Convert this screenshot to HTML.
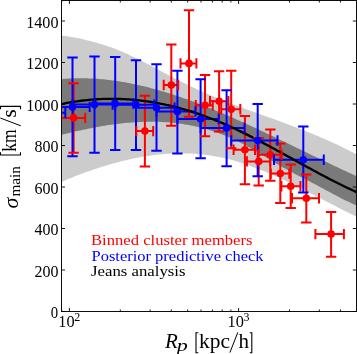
<!DOCTYPE html>
<html><head><meta charset="utf-8"><style>html,body{margin:0;padding:0;background:#fff;}svg{display:block;}</style></head>
<body><svg width="357" height="354" viewBox="0 0 357 354" style="will-change:transform">
<defs><clipPath id="c"><rect x="61.5" y="0.5" width="295" height="311"/></clipPath></defs>
<rect width="357" height="354" fill="#fff"/>
<g clip-path="url(#c)">
<polygon points="61.00,35.65 63.00,35.84 65.00,36.07 67.00,36.32 69.00,36.59 71.00,36.89 73.00,37.22 75.00,37.57 77.00,37.95 79.00,38.34 81.00,38.76 83.00,39.21 85.00,39.67 87.00,40.15 89.00,40.65 91.00,41.17 93.00,41.71 95.00,42.26 97.00,42.83 99.00,43.42 101.00,44.02 103.00,44.65 105.00,45.29 107.00,45.95 109.00,46.64 111.00,47.35 113.00,48.08 115.00,48.83 117.00,49.61 119.00,50.42 121.00,51.25 123.00,52.10 125.00,52.97 127.00,53.86 129.00,54.78 131.00,55.71 133.00,56.65 135.00,57.62 137.00,58.59 139.00,59.59 141.00,60.59 143.00,61.61 145.00,62.63 147.00,63.67 149.00,64.71 151.00,65.76 153.00,66.81 155.00,67.87 157.00,68.94 159.00,70.00 161.00,71.07 163.00,72.14 165.00,73.20 167.00,74.27 169.00,75.33 171.00,76.39 173.00,77.44 175.00,78.48 177.00,79.52 179.00,80.55 181.00,81.56 183.00,82.57 185.00,83.56 187.00,84.54 189.00,85.51 191.00,86.47 193.00,87.41 195.00,88.34 197.00,89.26 199.00,90.17 201.00,91.06 203.00,91.95 205.00,92.83 207.00,93.69 209.00,94.55 211.00,95.39 213.00,96.23 215.00,97.06 217.00,97.88 219.00,98.69 221.00,99.50 223.00,100.29 225.00,101.09 227.00,101.87 229.00,102.65 231.00,103.42 233.00,104.18 235.00,104.94 237.00,105.70 239.00,106.45 241.00,107.20 243.00,107.94 245.00,108.68 247.00,109.41 249.00,110.15 251.00,110.88 253.00,111.60 255.00,112.33 257.00,113.06 259.00,113.78 261.00,114.50 263.00,115.22 265.00,115.94 267.00,116.66 269.00,117.39 271.00,118.11 273.00,118.83 275.00,119.56 277.00,120.28 279.00,121.01 281.00,121.75 283.00,122.48 285.00,123.22 287.00,123.96 289.00,124.70 291.00,125.45 293.00,126.20 295.00,126.96 297.00,127.73 299.00,128.49 301.00,129.27 303.00,130.05 305.00,130.84 307.00,131.63 309.00,132.43 311.00,133.24 313.00,134.06 315.00,134.88 317.00,135.71 319.00,136.56 321.00,137.41 323.00,138.27 325.00,139.14 327.00,140.02 329.00,140.91 331.00,141.81 333.00,142.73 335.00,143.65 337.00,144.59 339.00,145.54 341.00,146.50 343.00,147.47 345.00,148.46 347.00,149.46 349.00,150.48 351.00,151.51 353.00,152.55 355.00,153.61 357.00,154.69 357.00,216.93 355.00,215.95 353.00,214.97 351.00,213.97 349.00,212.97 347.00,211.97 345.00,210.96 343.00,209.95 341.00,208.93 339.00,207.90 337.00,206.88 335.00,205.85 333.00,204.82 331.00,203.78 329.00,202.75 327.00,201.71 325.00,200.68 323.00,199.64 321.00,198.60 319.00,197.57 317.00,196.53 315.00,195.50 313.00,194.47 311.00,193.44 309.00,192.42 307.00,191.40 305.00,190.38 303.00,189.37 301.00,188.36 299.00,187.36 297.00,186.37 295.00,185.38 293.00,184.39 291.00,183.42 289.00,182.45 287.00,181.49 285.00,180.54 283.00,179.60 281.00,178.67 279.00,177.75 277.00,176.83 275.00,175.93 273.00,175.04 271.00,174.17 269.00,173.30 267.00,172.45 265.00,171.61 263.00,170.78 261.00,169.97 259.00,169.18 257.00,168.39 255.00,167.63 253.00,166.88 251.00,166.14 249.00,165.43 247.00,164.73 245.00,164.05 243.00,163.38 241.00,162.74 239.00,162.11 237.00,161.51 235.00,160.92 233.00,160.36 231.00,159.82 229.00,159.29 227.00,158.79 225.00,158.32 223.00,157.86 221.00,157.43 219.00,157.02 217.00,156.63 215.00,156.27 213.00,155.93 211.00,155.61 209.00,155.31 207.00,155.04 205.00,154.78 203.00,154.55 201.00,154.34 199.00,154.15 197.00,153.98 195.00,153.83 193.00,153.71 191.00,153.60 189.00,153.51 187.00,153.45 185.00,153.40 183.00,153.37 181.00,153.36 179.00,153.38 177.00,153.41 175.00,153.46 173.00,153.53 171.00,153.61 169.00,153.72 167.00,153.84 165.00,153.99 163.00,154.15 161.00,154.33 159.00,154.52 157.00,154.73 155.00,154.97 153.00,155.21 151.00,155.48 149.00,155.76 147.00,156.06 145.00,156.37 143.00,156.70 141.00,157.05 139.00,157.41 137.00,157.79 135.00,158.19 133.00,158.59 131.00,159.02 129.00,159.46 127.00,159.91 125.00,160.38 123.00,160.87 121.00,161.36 119.00,161.88 117.00,162.40 115.00,162.94 113.00,163.50 111.00,164.06 109.00,164.64 107.00,165.24 105.00,165.84 103.00,166.46 101.00,167.09 99.00,167.74 97.00,168.39 95.00,169.06 93.00,169.74 91.00,170.43 89.00,171.14 87.00,171.85 85.00,172.58 83.00,173.32 81.00,174.06 79.00,174.82 77.00,175.59 75.00,176.37 73.00,177.16 71.00,177.96 69.00,178.77 67.00,179.59 65.00,180.41 63.00,181.25 61.00,182.10" fill="#cccccc"/>
<polygon points="61.00,79.08 63.00,78.92 65.00,78.77 67.00,78.64 69.00,78.53 71.00,78.43 73.00,78.36 75.00,78.30 77.00,78.26 79.00,78.25 81.00,78.24 83.00,78.26 85.00,78.29 87.00,78.34 89.00,78.41 91.00,78.49 93.00,78.60 95.00,78.71 97.00,78.85 99.00,79.00 101.00,79.17 103.00,79.35 105.00,79.55 107.00,79.76 109.00,79.99 111.00,80.24 113.00,80.50 115.00,80.77 117.00,81.07 119.00,81.37 121.00,81.69 123.00,82.02 125.00,82.37 127.00,82.74 129.00,83.11 131.00,83.50 133.00,83.91 135.00,84.32 137.00,84.75 139.00,85.20 141.00,85.66 143.00,86.12 145.00,86.61 147.00,87.10 149.00,87.61 151.00,88.13 153.00,88.66 155.00,89.20 157.00,89.75 159.00,90.32 161.00,90.90 163.00,91.49 165.00,92.09 167.00,92.70 169.00,93.32 171.00,93.95 173.00,94.59 175.00,95.24 177.00,95.90 179.00,96.58 181.00,97.26 183.00,97.95 185.00,98.65 187.00,99.36 189.00,100.08 191.00,100.81 193.00,101.54 195.00,102.29 197.00,103.04 199.00,103.80 201.00,104.57 203.00,105.35 205.00,106.14 207.00,106.93 209.00,107.73 211.00,108.54 213.00,109.36 215.00,110.18 217.00,111.01 219.00,111.84 221.00,112.68 223.00,113.53 225.00,114.39 227.00,115.25 229.00,116.11 231.00,116.99 233.00,117.86 235.00,118.75 237.00,119.64 239.00,120.53 241.00,121.43 243.00,122.33 245.00,123.24 247.00,124.15 249.00,125.07 251.00,125.99 253.00,126.91 255.00,127.84 257.00,128.77 259.00,129.70 261.00,130.64 263.00,131.58 265.00,132.53 267.00,133.47 269.00,134.42 271.00,135.38 273.00,136.33 275.00,137.29 277.00,138.25 279.00,139.21 281.00,140.17 283.00,141.13 285.00,142.10 287.00,143.06 289.00,144.03 291.00,145.00 293.00,145.96 295.00,146.93 297.00,147.90 299.00,148.87 301.00,149.84 303.00,150.81 305.00,151.78 307.00,152.75 309.00,153.72 311.00,154.68 313.00,155.65 315.00,156.61 317.00,157.58 319.00,158.54 321.00,159.50 323.00,160.46 325.00,161.42 327.00,162.37 329.00,163.33 331.00,164.28 333.00,165.22 335.00,166.17 337.00,167.11 339.00,168.05 341.00,168.99 343.00,169.92 345.00,170.85 347.00,171.78 349.00,172.70 351.00,173.62 353.00,174.53 355.00,175.44 357.00,176.34 357.00,205.65 355.00,204.80 353.00,203.92 351.00,203.01 349.00,202.08 347.00,201.12 345.00,200.14 343.00,199.14 341.00,198.13 339.00,197.10 337.00,196.06 335.00,195.00 333.00,193.94 331.00,192.87 329.00,191.79 327.00,190.72 325.00,189.64 323.00,188.56 321.00,187.49 319.00,186.41 317.00,185.35 315.00,184.28 313.00,183.22 311.00,182.16 309.00,181.12 307.00,180.08 305.00,179.04 303.00,178.01 301.00,176.98 299.00,175.95 297.00,174.92 295.00,173.88 293.00,172.84 291.00,171.78 289.00,170.71 287.00,169.62 285.00,168.52 283.00,167.39 281.00,166.25 279.00,165.09 277.00,163.91 275.00,162.73 273.00,161.53 271.00,160.32 269.00,159.12 267.00,157.90 265.00,156.69 263.00,155.48 261.00,154.27 259.00,153.07 257.00,151.87 255.00,150.69 253.00,149.52 251.00,148.36 249.00,147.22 247.00,146.10 245.00,145.00 243.00,143.93 241.00,142.88 239.00,141.86 237.00,140.87 235.00,139.91 233.00,138.97 231.00,138.07 229.00,137.19 227.00,136.34 225.00,135.52 223.00,134.73 221.00,133.96 219.00,133.22 217.00,132.51 215.00,131.82 213.00,131.15 211.00,130.52 209.00,129.90 207.00,129.31 205.00,128.75 203.00,128.21 201.00,127.70 199.00,127.20 197.00,126.73 195.00,126.29 193.00,125.86 191.00,125.46 189.00,125.08 187.00,124.72 185.00,124.39 183.00,124.07 181.00,123.78 179.00,123.51 177.00,123.25 175.00,123.02 173.00,122.81 171.00,122.62 169.00,122.45 167.00,122.29 165.00,122.16 163.00,122.04 161.00,121.95 159.00,121.87 157.00,121.81 155.00,121.76 153.00,121.74 151.00,121.73 149.00,121.74 147.00,121.76 145.00,121.80 143.00,121.86 141.00,121.93 139.00,122.02 137.00,122.13 135.00,122.25 133.00,122.38 131.00,122.53 129.00,122.69 127.00,122.87 125.00,123.06 123.00,123.27 121.00,123.48 119.00,123.71 117.00,123.96 115.00,124.21 113.00,124.48 111.00,124.76 109.00,125.06 107.00,125.36 105.00,125.67 103.00,126.00 101.00,126.34 99.00,126.68 97.00,127.04 95.00,127.41 93.00,127.78 91.00,128.17 89.00,128.57 87.00,128.97 85.00,129.38 83.00,129.80 81.00,130.23 79.00,130.67 77.00,131.11 75.00,131.57 73.00,132.03 71.00,132.49 69.00,132.96 67.00,133.44 65.00,133.93 63.00,134.42 61.00,134.91" fill="#7a7a7a"/>
<path d="M73.6,83.2V152.8M50,117.9H85.2M144.9,95.8V166.4M136.3,131.1H153.2M171.3,44.4V125.8M163.7,85H178.2M189,10.3V116.8M180.5,63.4H196.4M205,75V136.2M195.8,105.3H212.8M219.1,71.2V131.5M210,101.3H228.3M231.2,70.7V148.2M221.2,109.2H240.3M244.9,116V184.2M233.6,149.7H255M258.7,137.9V185.4M246.9,161.4H270.2M270.3,129.4V180.8M258,154.7H281.6M280.3,143.4V203.1M270.8,173.6H289.3M290.7,164.4V208.1M281.4,186.2H300.4M306.3,174.6V222.4M292,198.2H319M331.1,211.9V256.8M315.4,234.1H343.9" stroke="#ff0000" stroke-width="2" fill="none"/>
<path d="M47.2,60V165M23,112.8H65.3M72.5,57.4V156.2M30,106.9H89.7M94.5,56.4V152.8M72.5,104.5H112.6M115.2,57.1V150M94.5,103.6H133.3M136,60.3V149.9M115.2,104.7H154.1M156.5,64.3V150.7M136,107.8H174.6M177.4,70.8V153.6M156.5,111.5H195.5M200.6,79.2V158.3M177.4,119H218.7M226.6,90.2V166.3M200.6,128H244.5M257.7,104V176.3M231.3,140.5H277.5M303.3,126.5V192.5M274,159.7H323.8" stroke="#0000ff" stroke-width="2" fill="none"/>
<polyline points="61.00,104.18 63.00,103.76 65.00,103.36 67.00,102.97 69.00,102.60 71.00,102.25 73.00,101.92 75.00,101.60 77.00,101.30 79.00,101.02 81.00,100.76 83.00,100.51 85.00,100.28 87.00,100.07 89.00,99.87 91.00,99.69 93.00,99.53 95.00,99.38 97.00,99.25 99.00,99.14 101.00,99.04 103.00,98.96 105.00,98.90 107.00,98.86 109.00,98.83 111.00,98.81 113.00,98.82 115.00,98.84 117.00,98.88 119.00,98.93 121.00,99.00 123.00,99.09 125.00,99.19 127.00,99.31 129.00,99.44 131.00,99.59 133.00,99.76 135.00,99.94 137.00,100.14 139.00,100.36 141.00,100.59 143.00,100.84 145.00,101.10 147.00,101.38 149.00,101.68 151.00,101.99 153.00,102.31 155.00,102.66 157.00,103.01 159.00,103.39 161.00,103.78 163.00,104.18 165.00,104.60 167.00,105.04 169.00,105.49 171.00,105.96 173.00,106.44 175.00,106.94 177.00,107.45 179.00,107.98 181.00,108.52 183.00,109.08 185.00,109.66 187.00,110.25 189.00,110.85 191.00,111.47 193.00,112.10 195.00,112.75 197.00,113.42 199.00,114.10 201.00,114.79 203.00,115.50 205.00,116.22 207.00,116.96 209.00,117.71 211.00,118.48 213.00,119.26 215.00,120.06 217.00,120.87 219.00,121.70 221.00,122.54 223.00,123.39 225.00,124.26 227.00,125.14 229.00,126.04 231.00,126.95 233.00,127.87 235.00,128.80 237.00,129.74 239.00,130.70 241.00,131.66 243.00,132.64 245.00,133.62 247.00,134.62 249.00,135.62 251.00,136.64 253.00,137.66 255.00,138.69 257.00,139.72 259.00,140.77 261.00,141.82 263.00,142.87 265.00,143.94 267.00,145.00 269.00,146.08 271.00,147.15 273.00,148.24 275.00,149.32 277.00,150.41 279.00,151.51 281.00,152.60 283.00,153.70 285.00,154.80 287.00,155.90 289.00,157.00 291.00,158.11 293.00,159.21 295.00,160.31 297.00,161.42 299.00,162.52 301.00,163.62 303.00,164.72 305.00,165.82 307.00,166.91 309.00,168.00 311.00,169.09 313.00,170.18 315.00,171.26 317.00,172.34 319.00,173.41 321.00,174.47 323.00,175.54 325.00,176.59 327.00,177.64 329.00,178.68 331.00,179.72 333.00,180.74 335.00,181.76 337.00,182.77 339.00,183.77 341.00,184.77 343.00,185.75 345.00,186.72 347.00,187.69 349.00,188.64 351.00,189.58 353.00,190.51 355.00,191.42 357.00,192.33" fill="none" stroke="#000" stroke-width="2.3"/>
<circle cx="73.6" cy="117.9" r="3.8" fill="#ff0000"/>
<circle cx="144.9" cy="131.1" r="3.8" fill="#ff0000"/>
<circle cx="171.3" cy="85" r="3.8" fill="#ff0000"/>
<circle cx="189" cy="63.4" r="3.8" fill="#ff0000"/>
<circle cx="205" cy="105.3" r="3.8" fill="#ff0000"/>
<circle cx="219.1" cy="101.3" r="3.8" fill="#ff0000"/>
<circle cx="231.2" cy="109.2" r="3.8" fill="#ff0000"/>
<circle cx="244.9" cy="149.7" r="3.8" fill="#ff0000"/>
<circle cx="258.7" cy="161.4" r="3.8" fill="#ff0000"/>
<circle cx="270.3" cy="154.7" r="3.8" fill="#ff0000"/>
<circle cx="280.3" cy="173.6" r="3.8" fill="#ff0000"/>
<circle cx="290.7" cy="186.2" r="3.8" fill="#ff0000"/>
<circle cx="306.3" cy="198.2" r="3.8" fill="#ff0000"/>
<circle cx="331.1" cy="234.1" r="3.8" fill="#ff0000"/>
<path d="M68.39999999999999,83.2H78.8M68.39999999999999,152.8H78.8M50,112.7V123.10000000000001M85.2,112.7V123.10000000000001M139.70000000000002,95.8H150.1M139.70000000000002,166.4H150.1M136.3,125.89999999999999V136.29999999999998M153.2,125.89999999999999V136.29999999999998M166.10000000000002,44.4H176.5M166.10000000000002,125.8H176.5M163.7,79.8V90.2M178.2,79.8V90.2M183.8,10.3H194.2M183.8,116.8H194.2M180.5,58.199999999999996V68.6M196.4,58.199999999999996V68.6M199.8,75H210.2M199.8,136.2H210.2M195.8,100.1V110.5M212.8,100.1V110.5M213.9,71.2H224.29999999999998M213.9,131.5H224.29999999999998M210,96.1V106.5M228.3,96.1V106.5M226.0,70.7H236.39999999999998M226.0,148.2H236.39999999999998M221.2,104.0V114.4M240.3,104.0V114.4M239.70000000000002,116H250.1M239.70000000000002,184.2H250.1M233.6,144.5V154.89999999999998M255,144.5V154.89999999999998M253.5,137.9H263.9M253.5,185.4H263.9M246.9,156.20000000000002V166.6M270.2,156.20000000000002V166.6M265.1,129.4H275.5M265.1,180.8H275.5M258,149.5V159.89999999999998M281.6,149.5V159.89999999999998M275.1,143.4H285.5M275.1,203.1H285.5M270.8,168.4V178.79999999999998M289.3,168.4V178.79999999999998M285.5,164.4H295.9M285.5,208.1H295.9M281.4,181.0V191.39999999999998M300.4,181.0V191.39999999999998M301.1,174.6H311.5M301.1,222.4H311.5M292,193.0V203.39999999999998M319,193.0V203.39999999999998M325.90000000000003,211.9H336.3M325.90000000000003,256.8H336.3M315.4,228.9V239.29999999999998M343.9,228.9V239.29999999999998" stroke="#ff0000" stroke-width="2" fill="none"/>
<circle cx="47.2" cy="112.8" r="3.8" fill="#0000ff"/>
<circle cx="72.5" cy="106.9" r="3.8" fill="#0000ff"/>
<circle cx="94.5" cy="104.5" r="3.8" fill="#0000ff"/>
<circle cx="115.2" cy="103.6" r="3.8" fill="#0000ff"/>
<circle cx="136" cy="104.7" r="3.8" fill="#0000ff"/>
<circle cx="156.5" cy="107.8" r="3.8" fill="#0000ff"/>
<circle cx="177.4" cy="111.5" r="3.8" fill="#0000ff"/>
<circle cx="200.6" cy="119" r="3.8" fill="#0000ff"/>
<circle cx="226.6" cy="128" r="3.8" fill="#0000ff"/>
<circle cx="257.7" cy="140.5" r="3.8" fill="#0000ff"/>
<circle cx="303.3" cy="159.7" r="3.8" fill="#0000ff"/>
<path d="M42.0,60H52.400000000000006M42.0,165H52.400000000000006M23,107.6V118.0M65.3,107.6V118.0M67.3,57.4H77.7M67.3,156.2H77.7M30,101.7V112.10000000000001M89.7,101.7V112.10000000000001M89.3,56.4H99.7M89.3,152.8H99.7M72.5,99.3V109.7M112.6,99.3V109.7M110.0,57.1H120.4M110.0,150H120.4M94.5,98.39999999999999V108.8M133.3,98.39999999999999V108.8M130.8,60.3H141.2M130.8,149.9H141.2M115.2,99.5V109.9M154.1,99.5V109.9M151.3,64.3H161.7M151.3,150.7H161.7M136,102.6V113.0M174.6,102.6V113.0M172.20000000000002,70.8H182.6M172.20000000000002,153.6H182.6M156.5,106.3V116.7M195.5,106.3V116.7M195.4,79.2H205.79999999999998M195.4,158.3H205.79999999999998M177.4,113.8V124.2M218.7,113.8V124.2M221.4,90.2H231.79999999999998M221.4,166.3H231.79999999999998M200.6,122.8V133.2M244.5,122.8V133.2M252.5,104H262.9M252.5,176.3H262.9M231.3,135.3V145.7M277.5,135.3V145.7M298.1,126.5H308.5M298.1,192.5H308.5M274,154.5V164.89999999999998M323.8,154.5V164.89999999999998" stroke="#0000ff" stroke-width="2" fill="none"/>
</g>
<rect x="61.5" y="0.5" width="295" height="311" fill="none" stroke="#000" stroke-width="0.95"/>
<path d="M61.5,311.50h3.5M356.5,311.50h-3.7M61.5,270.00h3.5M356.5,270.00h-3.7M61.5,228.50h3.5M356.5,228.50h-3.7M61.5,187.00h3.5M356.5,187.00h-3.7M61.5,145.50h3.5M356.5,145.50h-3.7M61.5,104.00h3.5M356.5,104.00h-3.7M61.5,62.50h3.5M356.5,62.50h-3.7M61.5,21.00h3.5M356.5,21.00h-3.7M69.40,311.5v-3.5M69.40,0.5v3.5M238.60,311.5v-3.5M238.60,0.5v3.5M61.66,311.5v-2M61.66,0.5v2M120.33,311.5v-2M120.33,0.5v2M150.13,311.5v-2M150.13,0.5v2M171.27,311.5v-2M171.27,0.5v2M187.67,311.5v-2M187.67,0.5v2M201.06,311.5v-2M201.06,0.5v2M212.39,311.5v-2M212.39,0.5v2M222.20,311.5v-2M222.20,0.5v2M230.86,311.5v-2M230.86,0.5v2M289.53,311.5v-2M289.53,0.5v2M319.33,311.5v-2M319.33,0.5v2M340.47,311.5v-2M340.47,0.5v2" stroke="#000" stroke-width="0.9" fill="none"/>
<g font-family="Liberation Serif" font-size="16.5" fill="#000">
<text x="50.7" y="318.20" textLength="7.4" lengthAdjust="spacingAndGlyphs">0</text><text x="34.4" y="276.70" textLength="24" lengthAdjust="spacingAndGlyphs">200</text><text x="34.4" y="235.20" textLength="24" lengthAdjust="spacingAndGlyphs">400</text><text x="34.4" y="193.70" textLength="24" lengthAdjust="spacingAndGlyphs">600</text><text x="34.4" y="152.20" textLength="24" lengthAdjust="spacingAndGlyphs">800</text><text x="26.2" y="110.70" textLength="32.3" lengthAdjust="spacingAndGlyphs">1000</text><text x="26.2" y="69.20" textLength="32.3" lengthAdjust="spacingAndGlyphs">1200</text><text x="26.2" y="27.70" textLength="32.3" lengthAdjust="spacingAndGlyphs">1400</text>
<text x="58.3" y="327" font-size="16.5" textLength="16.3" lengthAdjust="spacingAndGlyphs">10</text><text x="74.2" y="320.5" font-size="12">2</text>
<text x="227.6" y="327" font-size="16.5" textLength="16.3" lengthAdjust="spacingAndGlyphs">10</text><text x="243.6" y="320.5" font-size="12">3</text>
</g>
<g font-family="Liberation Serif" font-size="14.5">
<text x="91" y="244.8" fill="#ff0000" textLength="161.5" lengthAdjust="spacingAndGlyphs">Binned cluster members</text>
<text x="91.5" y="260.5" fill="#0000ff" textLength="172" lengthAdjust="spacingAndGlyphs">Posterior predictive check</text>
<text x="91" y="276.2" fill="#000" textLength="94.5" lengthAdjust="spacingAndGlyphs">Jeans analysis</text>
</g>
<g font-family="Liberation Serif" fill="#000">
<text x="165" y="347.8" font-size="21" font-style="italic">R</text>
<text x="176.8" y="350.5" font-size="16.5" font-style="italic" textLength="11" lengthAdjust="spacingAndGlyphs">p</text>
<text x="199" y="348" font-size="21" textLength="31" lengthAdjust="spacingAndGlyphs">kpc</text><text x="238.5" y="348" font-size="21">h</text>
<g transform="rotate(-90)">
<text x="-208.5" y="17.6" font-size="22" font-style="italic">σ</text>
<text x="-196.6" y="20.2" font-size="15" textLength="30.5" lengthAdjust="spacingAndGlyphs">main</text>
<text x="-151.8" y="15.7" font-size="21" textLength="22.5" lengthAdjust="spacingAndGlyphs">km</text><text x="-117.5" y="15.7" font-size="21">s</text>
</g>
</g>
<path d="M198.3,332.7H196V352.7H198.3M249.8,332.7H251.8V352.7H249.8M0.5,152.2V155H20.5V152.2M0.5,109.2V106.4H20.5V109.2" stroke="#000" stroke-width="1.1" fill="none"/>
<path d="M229.9,352.6L237.8,332.4M0.3,118L20.8,125.8" stroke="#000" stroke-width="1" fill="none"/>
</svg></body></html>
